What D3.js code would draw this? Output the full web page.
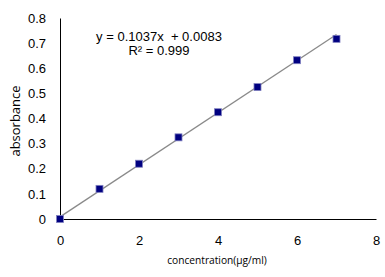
<!DOCTYPE html>
<html>
<head>
<meta charset="utf-8">
<script src="https://cdn.jsdelivr.net/npm/d3@7"></script>
<style>
  body { margin: 0; background: #fff; }
  svg { display: block; }
</style>
</head>
<body>
<svg id="chart" width="385" height="277"></svg>
<script>
const concentration = [0, 1, 2, 3, 4, 5, 6, 7];
const absorbance = [0, 0.12, 0.22, 0.325, 0.425, 0.525, 0.632, 0.717];
const xTicks = [0, 2, 4, 6, 8];
const yTicks = [0, 0.1, 0.2, 0.3, 0.4, 0.5, 0.6, 0.7, 0.8];
const slope = 0.1037;
const intercept = 0.0083;

const svg = d3.select("#chart");
const tickFont = "'Liberation Sans Narrow', 'Liberation Sans', Arial, sans-serif";

const x = d3.scaleLinear().domain([0, 8]).range([60, 376]);
const y = d3.scaleLinear().domain([0, 0.8]).range([219, 18]);

// axes, no tick marks
const xAxis = svg.append("g")
    .attr("transform", `translate(0,${y(0)})`)
    .call(d3.axisBottom(x).tickValues(xTicks).tickSize(0).tickPadding(17).tickFormat(d3.format("d")));
xAxis.select(".domain").attr("stroke", "#000");

const yAxis = svg.append("g")
    .attr("transform", `translate(${x(0)},0)`)
    .call(d3.axisLeft(y).tickValues(yTicks).tickSize(0).tickPadding(14).tickFormat(d => d === 0 ? "0" : d3.format(".1f")(d)));
yAxis.select(".domain").attr("stroke", "#000");

svg.selectAll(".tick text")
    .attr("font-family", tickFont)
    .attr("font-size", 13)
    .attr("fill", "#000");

// trendline
svg.append("line")
    .attr("x1", x(0)).attr("y1", y(intercept))
    .attr("x2", x(7)).attr("y2", y(slope * 7 + intercept))
    .attr("stroke", "#8a8a8a")
    .attr("stroke-width", 1.3);

// points
svg.append("g")
    .selectAll("rect")
    .data(concentration)
    .join("rect")
    .attr("x", (d) => x(d) - 3.5)
    .attr("y", (d, i) => y(absorbance[i]) - 3.5)
    .attr("width", 7)
    .attr("height", 7)
    .attr("fill", "#000080")
    .attr("stroke", "#8080c0")
    .attr("stroke-width", 0.8);

// equation
svg.append("text")
    .attr("x", 159).attr("y", 41)
    .attr("text-anchor", "middle")
    .attr("font-family", tickFont)
    .attr("font-size", 13)
    .attr("xml:space", "preserve")
    .text("y = 0.1037x  + 0.0083");
svg.append("text")
    .attr("x", 159).attr("y", 55)
    .attr("text-anchor", "middle")
    .attr("font-family", tickFont)
    .attr("font-size", 13)
    .text("R² = 0.999");

// axis titles
svg.append("text")
    .attr("x", 217).attr("y", 264)
    .attr("text-anchor", "middle")
    .attr("font-family", "'Open Sans', sans-serif")
    .attr("font-size", 10.2)
    .text("concentration(µg/ml)");
svg.append("text")
    .attr("transform", "translate(20,121) rotate(-90)")
    .attr("text-anchor", "middle")
    .attr("font-family", "'Open Sans', sans-serif")
    .attr("font-size", 13)
    .text("absorbance");
</script>
</body>
</html>
